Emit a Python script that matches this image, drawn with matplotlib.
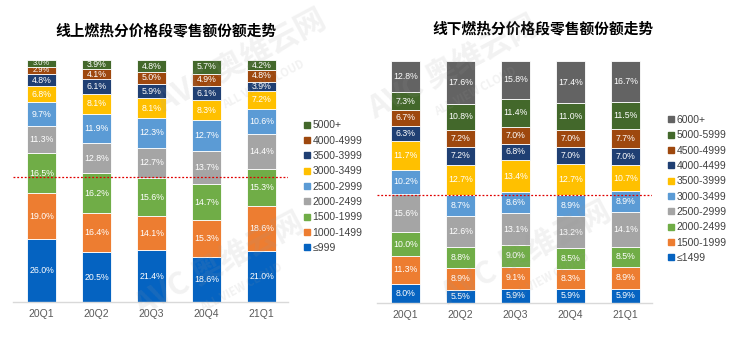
import matplotlib.pyplot as plt
from matplotlib.lines import Line2D

plt.rcParams['font.family'] = ['Noto Sans CJK SC', 'DejaVu Sans']

quarters = ['20Q1', '20Q2', '20Q3', '20Q4', '21Q1']

# online, bottom -> top
on_labels = ['≤999', '1000-1499', '1500-1999', '2000-2499', '2500-2999',
             '3000-3499', '3500-3999', '4000-4999', '5000+']
on_vals = [
    [26.0, 20.5, 21.4, 18.6, 21.0],
    [19.0, 16.4, 14.1, 15.3, 18.6],
    [16.5, 16.2, 15.6, 14.7, 15.3],
    [11.3, 12.8, 12.7, 13.7, 14.4],
    [9.7, 11.9, 12.3, 12.7, 10.6],
    [6.8, 8.1, 8.1, 8.3, 7.2],
    [4.8, 6.1, 5.9, 6.1, 3.9],
    [2.9, 4.1, 5.0, 4.9, 4.8],
    [3.0, 3.9, 4.8, 5.7, 4.2],
]
on_colors = ['#0563C1', '#ED7D31', '#70AD47', '#A5A5A5', '#5B9BD5',
             '#FFC000', '#1F3F73', '#9E480E', '#43682B']

# offline, bottom -> top
off_labels = ['≤1499', '1500-1999', '2000-2499', '2500-2999', '3000-3499',
              '3500-3999', '4000-4499', '4500-4999', '5000-5999', '6000+']
off_vals = [
    [8.0, 5.5, 5.9, 5.9, 5.9],
    [11.3, 8.9, 9.1, 8.3, 8.9],
    [10.0, 8.8, 9.0, 8.5, 8.5],
    [15.6, 12.6, 13.1, 13.2, 14.1],
    [10.2, 8.7, 8.6, 8.9, 8.9],
    [11.7, 12.7, 13.4, 12.7, 10.7],
    [6.3, 7.2, 6.8, 7.0, 7.0],
    [6.7, 7.2, 7.0, 7.0, 7.7],
    [7.3, 10.8, 11.4, 11.0, 11.5],
    [12.8, 17.6, 15.8, 17.4, 16.7],
]
off_colors = ['#0563C1', '#ED7D31', '#70AD47', '#A5A5A5', '#5B9BD5',
              '#FFC000', '#1F3F73', '#9E480E', '#43682B', '#636363']

on_ref = 51.7
off_ref = 44.5

LAT = ['Liberation Sans', 'DejaVu Sans']

fig = plt.figure(figsize=(7.31, 3.38), dpi=100)
ax1 = fig.add_axes([13/731, 36/338, 275/731, 242/338])
ax2 = fig.add_axes([377/731, 35/338, 275/731, 242/338])


def draw(ax, labels, vals, colors, ref):
    x = range(len(quarters))
    bottom = [0.0] * len(quarters)
    for lab, v, c in zip(labels, vals, colors):
        bars = ax.bar(x, v, width=0.52, bottom=bottom, color=c,
                      edgecolor='white', linewidth=0.6, label=lab)
        for b, val in zip(bars, v):
            fs = 6.3 if val >= 3.5 else 5.4
            ax.text(b.get_x() + b.get_width() / 2, b.get_y() + b.get_height() / 2,
                    f'{val:.1f}%', ha='center', va='center', color='white',
                    fontsize=fs, family=LAT)
        bottom = [b + vv for b, vv in zip(bottom, v)]
    ax.axhline(ref, color='#E00000', linestyle=(0, (1.5, 1.5)), linewidth=0.9)
    ax.set_xlim(-0.52, 4.48)
    ax.set_ylim(0, 100)
    ax.set_xticks(list(x))
    ax.set_xticklabels(quarters, color='#595959', fontsize=7.5, family=LAT)
    ax.tick_params(axis='x', length=0, pad=5)
    ax.set_yticks([])
    for s in ['top', 'right', 'left']:
        ax.spines[s].set_visible(False)
    ax.spines['bottom'].set_color('#D9D9D9')
    ax.spines['bottom'].set_linewidth(1)
    ax.patch.set_alpha(0)


draw(ax1, on_labels, on_vals, on_colors, on_ref)
draw(ax2, off_labels, off_vals, off_colors, off_ref)


def legend(labels, colors, anchor):
    handles = [Line2D([], [], marker='s', linestyle='none', markersize=4.5,
                      color=c, label=l) for l, c in zip(labels, colors)]
    leg = fig.legend(handles=handles[::-1], loc='center left',
                     bbox_to_anchor=anchor, frameon=False,
                     prop={'family': LAT, 'size': 7.5},
                     handlelength=0.6, handletextpad=0.2, labelspacing=0.51,
                     borderpad=0)
    for t in leg.get_texts():
        t.set_color('#404040')


legend(on_labels, on_colors, (299/731, 0.448))
legend(off_labels, off_colors, (663/731, 0.441))

fig.text(166/731, 1 - 30/338, '线上燃热分价格段零售额份额走势', ha='center', va='center',
         fontsize=10.6, fontweight='bold')
fig.text(543/731, 1 - 28/338, '线下燃热分价格段零售额份额走势', ha='center', va='center',
         fontsize=10.6, fontweight='bold')

# faint watermarks
for (wx, wy) in [(0.33, 0.82), (0.30, 0.22), (0.62, 0.80), (0.72, 0.25)]:
    fig.text(wx, wy, 'AVC 奥维云网', rotation=28, ha='center', va='center',
             fontsize=22, fontweight='bold', color='#9A9A9A', alpha=0.13)
    fig.text(wx + 0.03, wy - 0.07, 'ALL VIEW CLOUD', rotation=28, ha='center',
             va='center', fontsize=8, fontweight='bold', color='#9A9A9A', alpha=0.13)

fig.savefig('out.png', dpi=100)
